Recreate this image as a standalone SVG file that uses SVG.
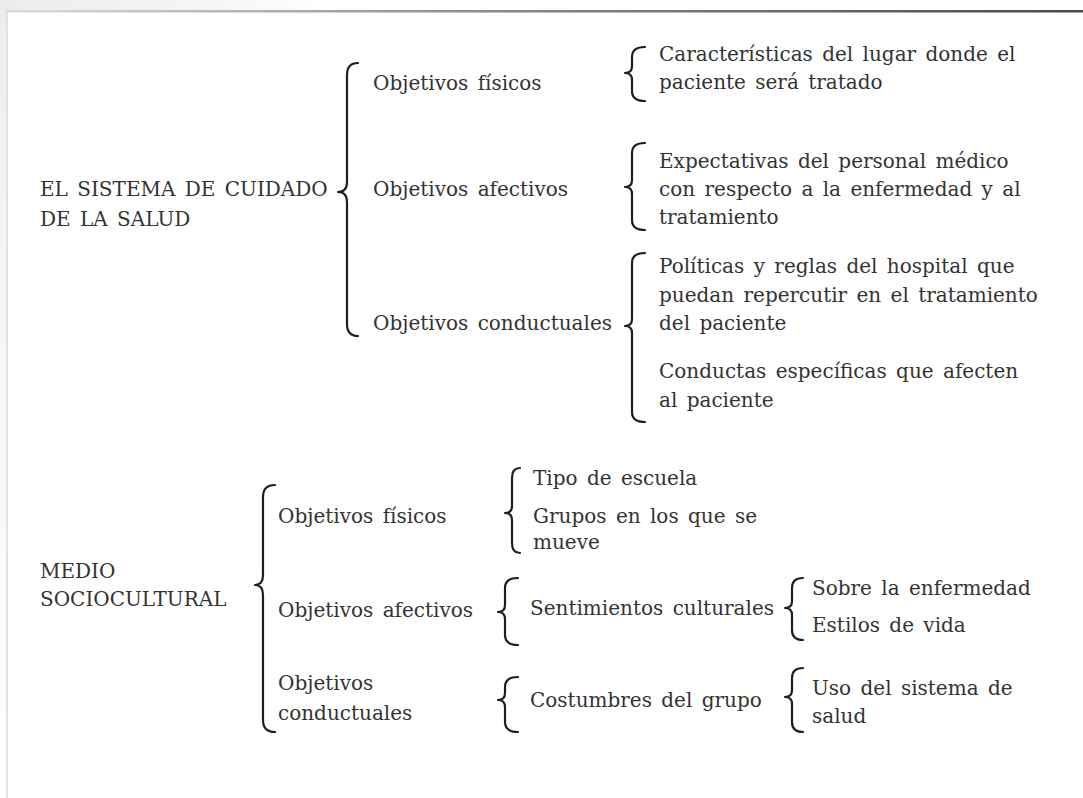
<svg xmlns="http://www.w3.org/2000/svg" width="1083" height="798" viewBox="0 0 1083 798">
<defs>
<linearGradient id="topLine" x1="0" y1="0" x2="1" y2="0">
<stop offset="0" stop-color="#dcdcdc"/>
<stop offset="0.45" stop-color="#8a8a8a"/>
<stop offset="1" stop-color="#4a4a4a"/>
</linearGradient>
<linearGradient id="topBg" x1="0" y1="0" x2="1" y2="0">
<stop offset="0" stop-color="#ececec"/>
<stop offset="0.2" stop-color="#f6f6f6"/>
<stop offset="0.3" stop-color="#ffffff"/>
</linearGradient>
<linearGradient id="leftBg" x1="0" y1="0" x2="0" y2="1">
<stop offset="0" stop-color="#ececec"/>
<stop offset="0.3" stop-color="#f5f5f5"/>
<stop offset="1" stop-color="#ffffff"/>
</linearGradient>
</defs>
<style>
text{font-family:"DejaVu Serif","Liberation Serif",serif;font-size:20px;fill:#333333;word-spacing:3px}
.br{fill:none;stroke:#1e1e1e;stroke-width:2.2;stroke-linecap:round;stroke-linejoin:round}
</style>
<rect x="0" y="0" width="1083" height="798" fill="#ffffff"/>
<rect x="0" y="0" width="1083" height="10" fill="url(#topBg)"/>
<rect x="0" y="0" width="6" height="798" fill="url(#leftBg)"/>
<rect x="6" y="10" width="2" height="788" fill="#e2e2e2"/>
<rect x="6" y="10" width="1077" height="2.5" fill="url(#topLine)"/>

<g id="connectors">
<path class="br" d="M358,63 Q347,63 347,75 L347,182 Q347,192 338,192 Q347,192 347,202 L347,324 Q347,336 358,336"/>
<path class="br" d="M645,47 Q632,47 632,57 L632,66 Q632,73 625,73 Q632,73 632,80 L632,91 Q632,101 645,101"/>
<path class="br" d="M645,143 Q632,143 632,153 L632,180 Q632,187 625,187 Q632,187 632,194 L632,220 Q632,230 645,230"/>
<path class="br" d="M645,253 Q632,253 632,263 L632,319 Q632,326 625,326 Q632,326 632,333 L632,412 Q632,422 645,422"/>
<path class="br" d="M275,485 Q263,485 263,497 L263,575 Q263,585 255,585 Q263,585 263,595 L263,720 Q263,732 275,732"/>
<path class="br" d="M520,468 Q512,468 512,478 L512,506 Q512,513 505,513 Q512,513 512,520 L512,543 Q512,553 520,553"/>
<path class="br" d="M518,578 Q505,578 505,588 L505,605 Q505,612 498,612 Q505,612 505,619 L505,635 Q505,645 518,645"/>
<path class="br" d="M518,677 Q505,677 505,687 L505,693 Q505,700 498,700 Q505,700 505,707 L505,722 Q505,732 518,732"/>
<path class="br" d="M803,578 Q792,578 792,588 L792,601 Q792,608 785,608 Q792,608 792,615 L792,630 Q792,640 803,640"/>
<path class="br" d="M803,668 Q792,668 792,678 L792,690 Q792,697 785,697 Q792,697 792,704 L792,722 Q792,732 803,732"/>
</g>

<g id="n-sistema"><text x="40" y="196">EL SISTEMA DE CUIDADO</text><text x="40" y="226">DE LA SALUD</text></g>
<g id="n-fis1"><text x="373" y="90">Objetivos físicos</text></g>
<g id="n-afe1"><text x="373" y="196">Objetivos afectivos</text></g>
<g id="n-con1"><text x="373" y="330">Objetivos conductuales</text></g>
<g id="n-caract"><text x="659" y="61">Características del lugar donde el</text><text x="659" y="89">paciente será tratado</text></g>
<g id="n-expect"><text x="659" y="168">Expectativas del personal médico</text><text x="659" y="196">con respecto a la enfermedad y al</text><text x="659" y="224">tratamiento</text></g>
<g id="n-politicas"><text x="659" y="273">Políticas y reglas del hospital que</text><text x="659" y="302">puedan repercutir en el tratamiento</text><text x="659" y="330">del paciente</text></g>
<g id="n-conductas"><text x="659" y="378">Conductas específicas que afecten</text><text x="659" y="407">al paciente</text></g>

<g id="n-medio"><text x="40" y="578">MEDIO</text><text x="40" y="606">SOCIOCULTURAL</text></g>
<g id="n-fis2"><text x="278" y="523">Objetivos físicos</text></g>
<g id="n-afe2"><text x="278" y="617">Objetivos afectivos</text></g>
<g id="n-con2"><text x="278" y="690">Objetivos</text><text x="278" y="720">conductuales</text></g>
<g id="n-tipo"><text x="533" y="485">Tipo de escuela</text></g>
<g id="n-grupos"><text x="533" y="523">Grupos en los que se</text><text x="533" y="549">mueve</text></g>
<g id="n-sent"><text x="530" y="615">Sentimientos culturales</text></g>
<g id="n-cost"><text x="530" y="707">Costumbres del grupo</text></g>
<g id="n-sobre"><text x="812" y="595">Sobre la enfermedad</text></g>
<g id="n-estilos"><text x="812" y="632">Estilos de vida</text></g>
<g id="n-uso"><text x="812" y="695">Uso del sistema de</text><text x="812" y="723">salud</text></g>
</svg>
